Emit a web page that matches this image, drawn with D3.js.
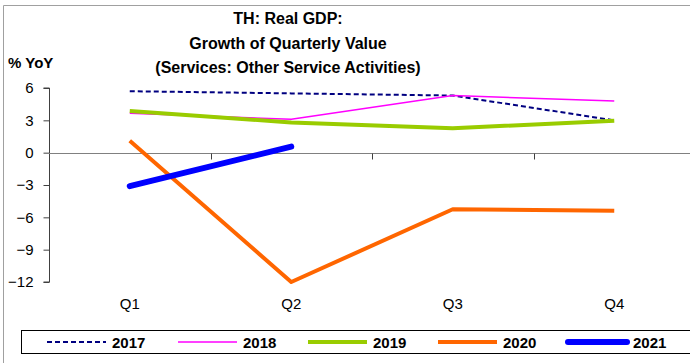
<!DOCTYPE html>
<html><head><meta charset="utf-8">
<script src="https://cdn.jsdelivr.net/npm/d3@7"></script>
<style>body{margin:0;background:#fff;}svg{display:block;font-family:"Liberation Sans",Arial,sans-serif;}</style>
</head><body>
<script>
const quarters = ["Q1","Q2","Q3","Q4"];
const years = ["2017","2018","2019","2020","2021"];
const v2017 = [5.7, 5.5, 5.3, 3.0];
const v2018 = [3.65, 3.1, 5.3, 4.8];
const v2019 = [3.87, 2.8, 2.26, 2.97];
const v2020 = [1.1, -12.0, -5.25, -5.4];
const v2021 = [-3.1, 0.56];
const yTicks = [6, 3, 0, -3, -6, -9, -12];
const titleLines = ["TH: Real GDP:", "Growth of Quarterly Value", "(Services: Other Service Activities)"];

const seriesStyle = {
  "2017": {color:"#000080", width:2, dash:"5,3"},
  "2018": {color:"#FF00FF", width:1.5, dash:null},
  "2019": {color:"#99CC00", width:4, dash:null},
  "2020": {color:"#FF6600", width:4, dash:null},
  "2021": {color:"#0000FF", width:6, dash:null}
};
const series = [v2017, v2018, v2019, v2020, v2021];

const W = 690, H = 363;
const svg = d3.select("body").append("svg").attr("width", W).attr("height", H);

// outer border
svg.append("path").attr("d","M3.5,363 L3.5,5.5 L690,5.5").attr("fill","none").attr("stroke","#a0a0a0").attr("stroke-width",1);

const x = d3.scaleBand().domain(quarters).range([49, 695]).padding(0);
const y = d3.scaleLinear().domain([-12, 6]).range([282, 88]);

// title
svg.append("g").selectAll("text").data(titleLines).join("text")
  .attr("x", 288).attr("y", (d,i)=>24 + i*24.5)
  .attr("text-anchor","middle").attr("font-weight","bold").attr("font-size",16)
  .text(d=>d);
svg.append("text").attr("x",8).attr("y",68).attr("font-weight","bold").attr("font-size",15).text("% YoY");

// y axis
const yAxis = d3.axisLeft(y).tickValues(yTicks).tickSize(6).tickPadding(10).tickFormat(d3.format("d"));
const gy = svg.append("g").attr("transform","translate(49.5,0)").call(yAxis);
gy.select(".domain").attr("stroke","#404040").attr("d","M-6,"+y(6)+"H0V"+y(-12)+"H-6");
gy.selectAll(".tick line").attr("stroke","#404040");
gy.selectAll(".tick text").attr("font-size",15).attr("fill","#000").attr("font-family","Liberation Sans, Arial, sans-serif");

// zero line with category ticks
const zy = Math.round(y(0)) + 0.5;
svg.append("line").attr("x1",49).attr("x2",W).attr("y1",zy).attr("y2",zy).attr("stroke","#808080").attr("stroke-width",1);
svg.append("g").selectAll("line").data(quarters.slice(1)).join("line")
  .attr("x1",d=>Math.round(x(d))+0.5).attr("x2",d=>Math.round(x(d))+0.5)
  .attr("y1",zy).attr("y2",zy+6).attr("stroke","#404040");

// x labels
svg.append("g").selectAll("text").data(quarters).join("text")
  .attr("x",d=>x(d)+x.bandwidth()/2).attr("y",309)
  .attr("text-anchor","middle").attr("font-size",15).text(d=>d);

// lines
const line = d3.line().x((d,i)=>x(quarters[i])+x.bandwidth()/2).y(d=>y(d));
years.forEach((yr,k)=>{
  const s = seriesStyle[yr];
  svg.append("path").datum(series[k]).attr("d", line)
    .attr("fill","none").attr("stroke",s.color).attr("stroke-width",s.width)
    .attr("stroke-dasharray",s.dash).attr("stroke-linecap", yr==="2021" ? "round" : "butt")
    .attr("stroke-linejoin","round");
});

// legend
svg.append("rect").attr("x",21.5).attr("y",330.5).attr("width",700).attr("height",23)
  .attr("fill","#fff").attr("stroke","#000").attr("stroke-width",1);
const legX = [47, 178, 308, 438, 568];
const lg = svg.append("g").selectAll("g").data(years).join("g")
  .attr("transform",(d,i)=>`translate(${legX[i]},342)`);
lg.append("line").attr("x1",0).attr("x2",59).attr("y1",0).attr("y2",0)
  .attr("stroke",d=>seriesStyle[d].color).attr("stroke-width",d=>seriesStyle[d].width)
  .attr("stroke-dasharray",d=>seriesStyle[d].dash).attr("stroke-linecap",d=>d==="2021"?"round":"butt");
lg.append("text").attr("x",65).attr("y",5.5).attr("font-weight","bold").attr("font-size",15).text(d=>d);
</script>
</body></html>
